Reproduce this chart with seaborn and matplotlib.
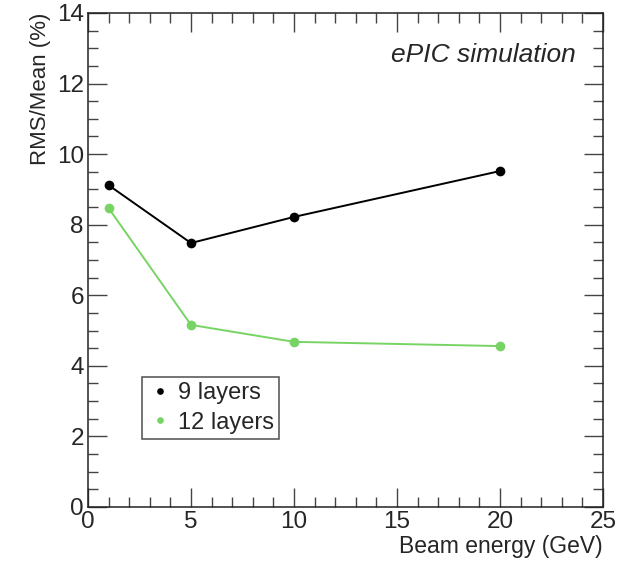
import matplotlib
matplotlib.use("Agg")
import matplotlib.pyplot as plt
from matplotlib.ticker import MultipleLocator
import seaborn as sns
import pandas as pd

energy = [1, 5, 10, 20]
rms_9_layers = [9.12, 7.48, 8.22, 9.52]
rms_12_layers = [8.47, 5.16, 4.68, 4.56]
series_names = ["9 layers", "12 layers"]

df = pd.concat([
    pd.DataFrame({"energy": energy, "rms": rms_9_layers, "setup": series_names[0]}),
    pd.DataFrame({"energy": energy, "rms": rms_12_layers, "setup": series_names[1]}),
])

sns.set_style("ticks")
plt.rcParams["font.family"] = ["Liberation Sans", "DejaVu Sans"]

fig = plt.figure(figsize=(6.34, 5.62), dpi=100)
ax = fig.add_axes([0.1388, 0.0979, 0.951 - 0.1388, 0.9769 - 0.0979])

palette = {"9 layers": "#000000", "12 layers": "#77d464"}
sns.lineplot(data=df, x="energy", y="rms", hue="setup", palette=palette,
             marker="o", markersize=7, markeredgewidth=0, linewidth=1.4,
             ax=ax, legend=False)

ax.set_xlim(0, 25)
ax.set_ylim(0, 14)
ax.xaxis.set_major_locator(MultipleLocator(5))
ax.xaxis.set_minor_locator(MultipleLocator(1))
ax.yaxis.set_major_locator(MultipleLocator(2))
ax.yaxis.set_minor_locator(MultipleLocator(0.5))
ax.tick_params(which="both", direction="in", top=True, right=True, width=1, color="#444444")
ax.tick_params(which="major", length=14, labelsize=17.5, pad=3)
ax.tick_params(which="minor", length=7)
for s in ax.spines.values():
    s.set_linewidth(1.1)
    s.set_color("#222222")

ax.set_xlabel("Beam energy (GeV)", fontsize=16.5, loc="right", labelpad=1)
ax.set_ylabel("RMS/Mean (%)", fontsize=16, loc="top", labelpad=4)

ax.text(23.7, 12.8, "ePIC simulation", fontsize=19, style="italic",
        ha="right", va="center")

# small round markers in the legend, like the ROOT TLegend
handles = [plt.Line2D([], [], marker="o", ls="none", color=palette[n],
                      markersize=4.8, markeredgewidth=0) for n in series_names]
leg = ax.legend(handles, series_names, loc="upper left", bbox_to_anchor=(0.105, 0.263),
                borderaxespad=0, fontsize=17, frameon=True, fancybox=False,
                handlelength=1.1, handletextpad=0.2, borderpad=0.22, labelspacing=0.31)
leg.get_frame().set_edgecolor("#222222")
leg.get_frame().set_linewidth(1.1)

fig.savefig("out.png", dpi=100, facecolor="white")
